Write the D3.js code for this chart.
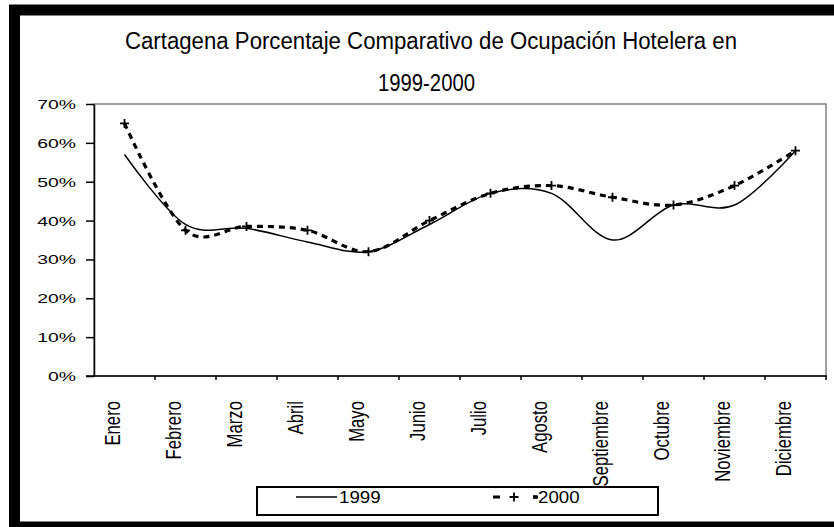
<!DOCTYPE html>
<html>
<head>
<meta charset="utf-8">
<script src="https://cdn.jsdelivr.net/npm/d3@7"></script>
<style>
  body { margin: 0; background: #fff; }
  text { font-family: "Liberation Sans", Arial, sans-serif; fill: #000; }
</style>
</head>
<body>
<svg id="chart" width="834" height="527"></svg>
<script>
const months = ["Enero", "Febrero", "Marzo", "Abril", "Mayo", "Junio", "Julio",
  "Agosto", "Septiembre", "Octubre", "Noviembre", "Diciembre"];
const values1999 = [0.57, 0.39, 0.38, 0.345, 0.32, 0.39, 0.47, 0.47, 0.35, 0.44, 0.44, 0.58];
const values2000 = [0.65, 0.375, 0.385, 0.375, 0.32, 0.40, 0.47, 0.49, 0.46, 0.44, 0.49, 0.58];
const yTicks = [0, 0.1, 0.2, 0.3, 0.4, 0.5, 0.6, 0.7];
const seriesNames = ["1999", "2000"];
const titleLines = ["Cartagena Porcentaje Comparativo de Ocupación Hotelera en", "1999-2000"];

const svg = d3.select("#chart");

// outer black frame (right side runs off the picture)
svg.append("rect")
  .attr("x", 14.5).attr("y", 10)
  .attr("width", 900).attr("height", 517)
  .attr("fill", "#fff")
  .attr("stroke", "#000")
  .attr("stroke-width", 11);

const x = d3.scaleBand().domain(months).range([94, 826]);
const y = d3.scaleLinear().domain([0, 0.7]).range([376, 104]);
const cx = (m) => x(m) + x.bandwidth() / 2;

// title
svg.selectAll("text.title")
  .data(titleLines)
  .join("text")
  .attr("class", "title")
  .attr("x", (d, i) => (i === 0 ? 431 : 426.5))
  .attr("y", (d, i) => (i === 0 ? 49 : 91))
  .attr("text-anchor", "middle")
  .attr("font-size", 23)
  .attr("font-family", "'Liberation Sans Narrow', 'Liberation Sans', Arial, sans-serif")
  .attr("textLength", (d, i) => (i === 0 ? 612 : 97))
  .attr("lengthAdjust", "spacingAndGlyphs")
  .text((d) => d);

// plot box
svg.append("rect")
  .attr("x", 94).attr("y", 104)
  .attr("width", 826 - 94).attr("height", 376 - 104)
  .attr("fill", "none")
  .attr("stroke", "#808080")
  .attr("stroke-width", 1.5);

// y axis
const yAxis = svg.append("g")
  .attr("transform", "translate(94,0)")
  .call(d3.axisLeft(y).tickValues(yTicks).tickFormat(d3.format(".0%")).tickSize(8).tickSizeOuter(0));
yAxis.select(".domain").attr("stroke-width", 1.5);
yAxis.selectAll(".tick line").attr("stroke-width", 1.5);
yAxis.selectAll(".tick text")
  .attr("x", 0)
  .attr("dy", "0.36em")
  .attr("text-anchor", "end")
  .attr("transform", "translate(-18,0) scale(1.55,1)")
  .attr("font-size", 12.5)
  .attr("font-family", "'Liberation Sans', Arial, sans-serif")
  .attr("fill", "#222");

// x axis line and ticks at category boundaries
svg.append("line")
  .attr("x1", 86).attr("x2", 827)
  .attr("y1", 376).attr("y2", 376)
  .attr("stroke", "#000").attr("stroke-width", 1.5);
const bounds = months.map((m) => x(m)).concat([x.range()[1]]);
svg.selectAll("line.xtick")
  .data(bounds.slice(1))
  .join("line")
  .attr("class", "xtick")
  .attr("x1", (d) => d).attr("x2", (d) => d)
  .attr("y1", 376).attr("y2", 380)
  .attr("stroke", "#000").attr("stroke-width", 1.5);

// month labels, rotated
svg.selectAll("text.month")
  .data(months)
  .join("text")
  .attr("class", "month")
  .attr("transform", (d) => `translate(${cx(d) - 5},401) rotate(-90) scale(0.76,1)`)
  .attr("text-anchor", "end")
  .attr("font-size", 22)
  .text((d) => d);

// series
const line = d3.line()
  .x((d, i) => cx(months[i]))
  .y((d) => y(d))
  .curve(d3.curveCatmullRom.alpha(0));

svg.append("path")
  .datum(values1999)
  .attr("d", line)
  .attr("fill", "none")
  .attr("stroke", "#000")
  .attr("stroke-width", 1.5);

svg.append("path")
  .datum(values2000)
  .attr("d", line)
  .attr("fill", "none")
  .attr("stroke", "#000")
  .attr("stroke-width", 3.2)
  .attr("stroke-dasharray", "6,5");

const plus = "M-4.5,0H4.5M0,-4.5V4.5";
svg.selectAll("path.mark")
  .data(values2000)
  .join("path")
  .attr("class", "mark")
  .attr("transform", (d, i) => `translate(${cx(months[i])},${y(d)})`)
  .attr("d", plus)
  .attr("stroke", "#000")
  .attr("stroke-width", 1.8);

// legend
const legend = svg.append("g");
legend.append("rect")
  .attr("x", 257).attr("y", 487)
  .attr("width", 401).attr("height", 28)
  .attr("fill", "#fff")
  .attr("stroke", "#000")
  .attr("stroke-width", 2);
legend.append("line")
  .attr("x1", 296).attr("x2", 337)
  .attr("y1", 497).attr("y2", 497)
  .attr("stroke", "#000").attr("stroke-width", 1.5);
legend.append("line")
  .attr("x1", 493).attr("x2", 538)
  .attr("y1", 497).attr("y2", 497)
  .attr("stroke", "#000").attr("stroke-width", 3.2)
  .attr("stroke-dasharray", "7,33");
legend.append("path")
  .attr("transform", "translate(514,497)")
  .attr("d", plus)
  .attr("stroke", "#000")
  .attr("stroke-width", 1.8);
legend.append("rect")
  .attr("x", 533).attr("y", 495.4)
  .attr("width", 4).attr("height", 3.2)
  .attr("fill", "#000");
legend.selectAll("text.leg")
  .data(seriesNames)
  .join("text")
  .attr("class", "leg")
  .attr("transform", (d, i) => `translate(${i === 0 ? 339 : 538},503) scale(1.1,1)`)
  .attr("font-size", 17)
  .text((d) => d);
</script>
</body>
</html>
